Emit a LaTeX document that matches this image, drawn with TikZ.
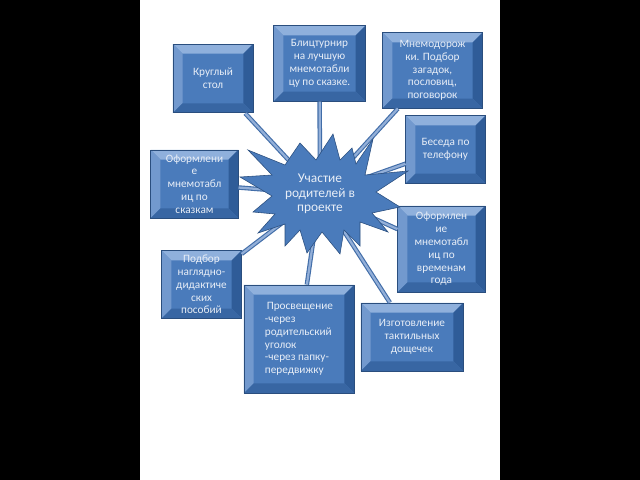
\documentclass[tikz,border=0pt]{standalone}
\usepackage{fontspec}
\setmainfont{Carlito}
\usepackage{tikz}
\usetikzlibrary{positioning,calc}
\definecolor{TileFace}{HTML}{4A7BBB}
\definecolor{TileLine}{HTML}{2A4E7E}
\definecolor{BevelTop}{HTML}{8FB0DC}
\definecolor{BevelLeft}{HTML}{7299CE}
\definecolor{BevelRight}{HTML}{2F5C98}
\definecolor{BevelBottom}{HTML}{3866A3}
\definecolor{TextTint}{HTML}{E8EEF7}
\definecolor{LinkEdge}{HTML}{416DA8}
\definecolor{LinkCore}{HTML}{93AFD8}
\newcommand{\tilebevel}{0.24cm}
\tikzset{
  tile/.style={draw=TileLine, line width=0.6pt, fill=TileFace, align=center, inner sep=0pt,
               text=TextTint, font=\fontsize{8}{9.1}\selectfont,
               path picture={
                 \coordinate (pnw) at (path picture bounding box.north west);
                 \coordinate (pne) at (path picture bounding box.north east);
                 \coordinate (psw) at (path picture bounding box.south west);
                 \coordinate (pse) at (path picture bounding box.south east);
                 \fill[BevelTop] (pnw) -- (pne) -- ([xshift=-\tilebevel,yshift=-\tilebevel]pne) -- ([xshift=\tilebevel,yshift=-\tilebevel]pnw) -- cycle;
                 \fill[BevelLeft] (pnw) -- (psw) -- ([xshift=\tilebevel,yshift=\tilebevel]psw) -- ([xshift=\tilebevel,yshift=-\tilebevel]pnw) -- cycle;
                 \fill[BevelRight] (pne) -- (pse) -- ([xshift=-\tilebevel,yshift=\tilebevel]pse) -- ([xshift=-\tilebevel,yshift=-\tilebevel]pne) -- cycle;
                 \fill[BevelBottom] (psw) -- (pse) -- ([xshift=-\tilebevel,yshift=\tilebevel]pse) -- ([xshift=\tilebevel,yshift=\tilebevel]psw) -- cycle;
               }},
  link/.style={draw=LinkEdge, line width=0.8pt, double=LinkCore, double distance=1.6pt},
}

\begin{document}
\begin{tikzpicture}[x=0.025cm, y=-0.025cm]
  \useasboundingbox (0,0) rectangle (640,480);
  \fill[black] (0,0) rectangle (640,480);
  \fill[white] (140,0) rectangle (500,480);
  \coordinate (hub) at (320,194);
  \node[tile, minimum width=2cm, minimum height=1.72cm] (krug) at (213,78.5) {Круглый\\стол};
  \node[tile, minimum width=2.28cm, minimum height=1.88cm] (blitz) at (319.5,63.5) {Блицтурнир\\на лучшую\\мнемотабли\\цу по сказке.};
  \node[tile, minimum width=2.48cm, minimum height=1.88cm] (mnemo) at (432.5,70.5) {Мнемодорож\\ки. Подбор\\загадок,\\пословиц,\\поговорок};
  \node[tile, minimum width=1.98cm, minimum height=1.68cm] (phone) at (445.5,149.5) {Беседа по\\телефону};
  \node[tile, minimum width=2.18cm, minimum height=1.7cm] (tales) at (194.5,184) {Оформлени\\е\\мнемотабл\\иц по\\сказкам};
  \node[tile, minimum width=2.18cm, minimum height=2.15cm] (seasons) at (441.5,249) {Оформлен\\ие\\мнемотабл\\иц по\\временам\\года};
  \node[tile, minimum width=1.98cm, minimum height=1.68cm] (aids) at (201.5,284.5) {Подбор\\наглядно-\\дидактиче\\ских\\пособий};
  \node[tile, align=left, minimum width=2.75cm, minimum height=2.7cm] (educ) at (299,339) {\,Просвещение\\-через\\родительский\\уголок\\-через папку-\\передвижку};
  \node[tile, minimum width=2.55cm, minimum height=1.7cm] (boards) at (412,337) {Изготовление\\тактильных\\дощечек};
  \foreach \n in {krug,blitz,mnemo,phone,tales,seasons,aids,educ,boards}
    \draw[link] (\n) -- (hub);
  \filldraw[fill=TileFace, draw=TileLine, line width=0.4pt]
    (248,150) -- (285,165) -- (300,143) -- (316,160) -- (333,134) -- (340,160) -- (352,148) -- (356,164)
    -- (373,139) -- (365,175) -- (408,171) -- (376,192) -- (400,207) -- (372,213) -- (388,232) -- (360,222)
    -- (360,246) -- (344,230) -- (340,254) -- (322,232) -- (307,253) -- (300,230) -- (285,246) -- (285,224)
    -- (258,233) -- (275,214) -- (253,212) -- (272,196) -- (240,177) -- (272,175) -- cycle;
  \node[text=TextTint, align=center, font=\fontsize{9.5}{10.5}\selectfont] (hubtext) at (hub) {Участие\\родителей в\\проекте};
\end{tikzpicture}
\end{document}
